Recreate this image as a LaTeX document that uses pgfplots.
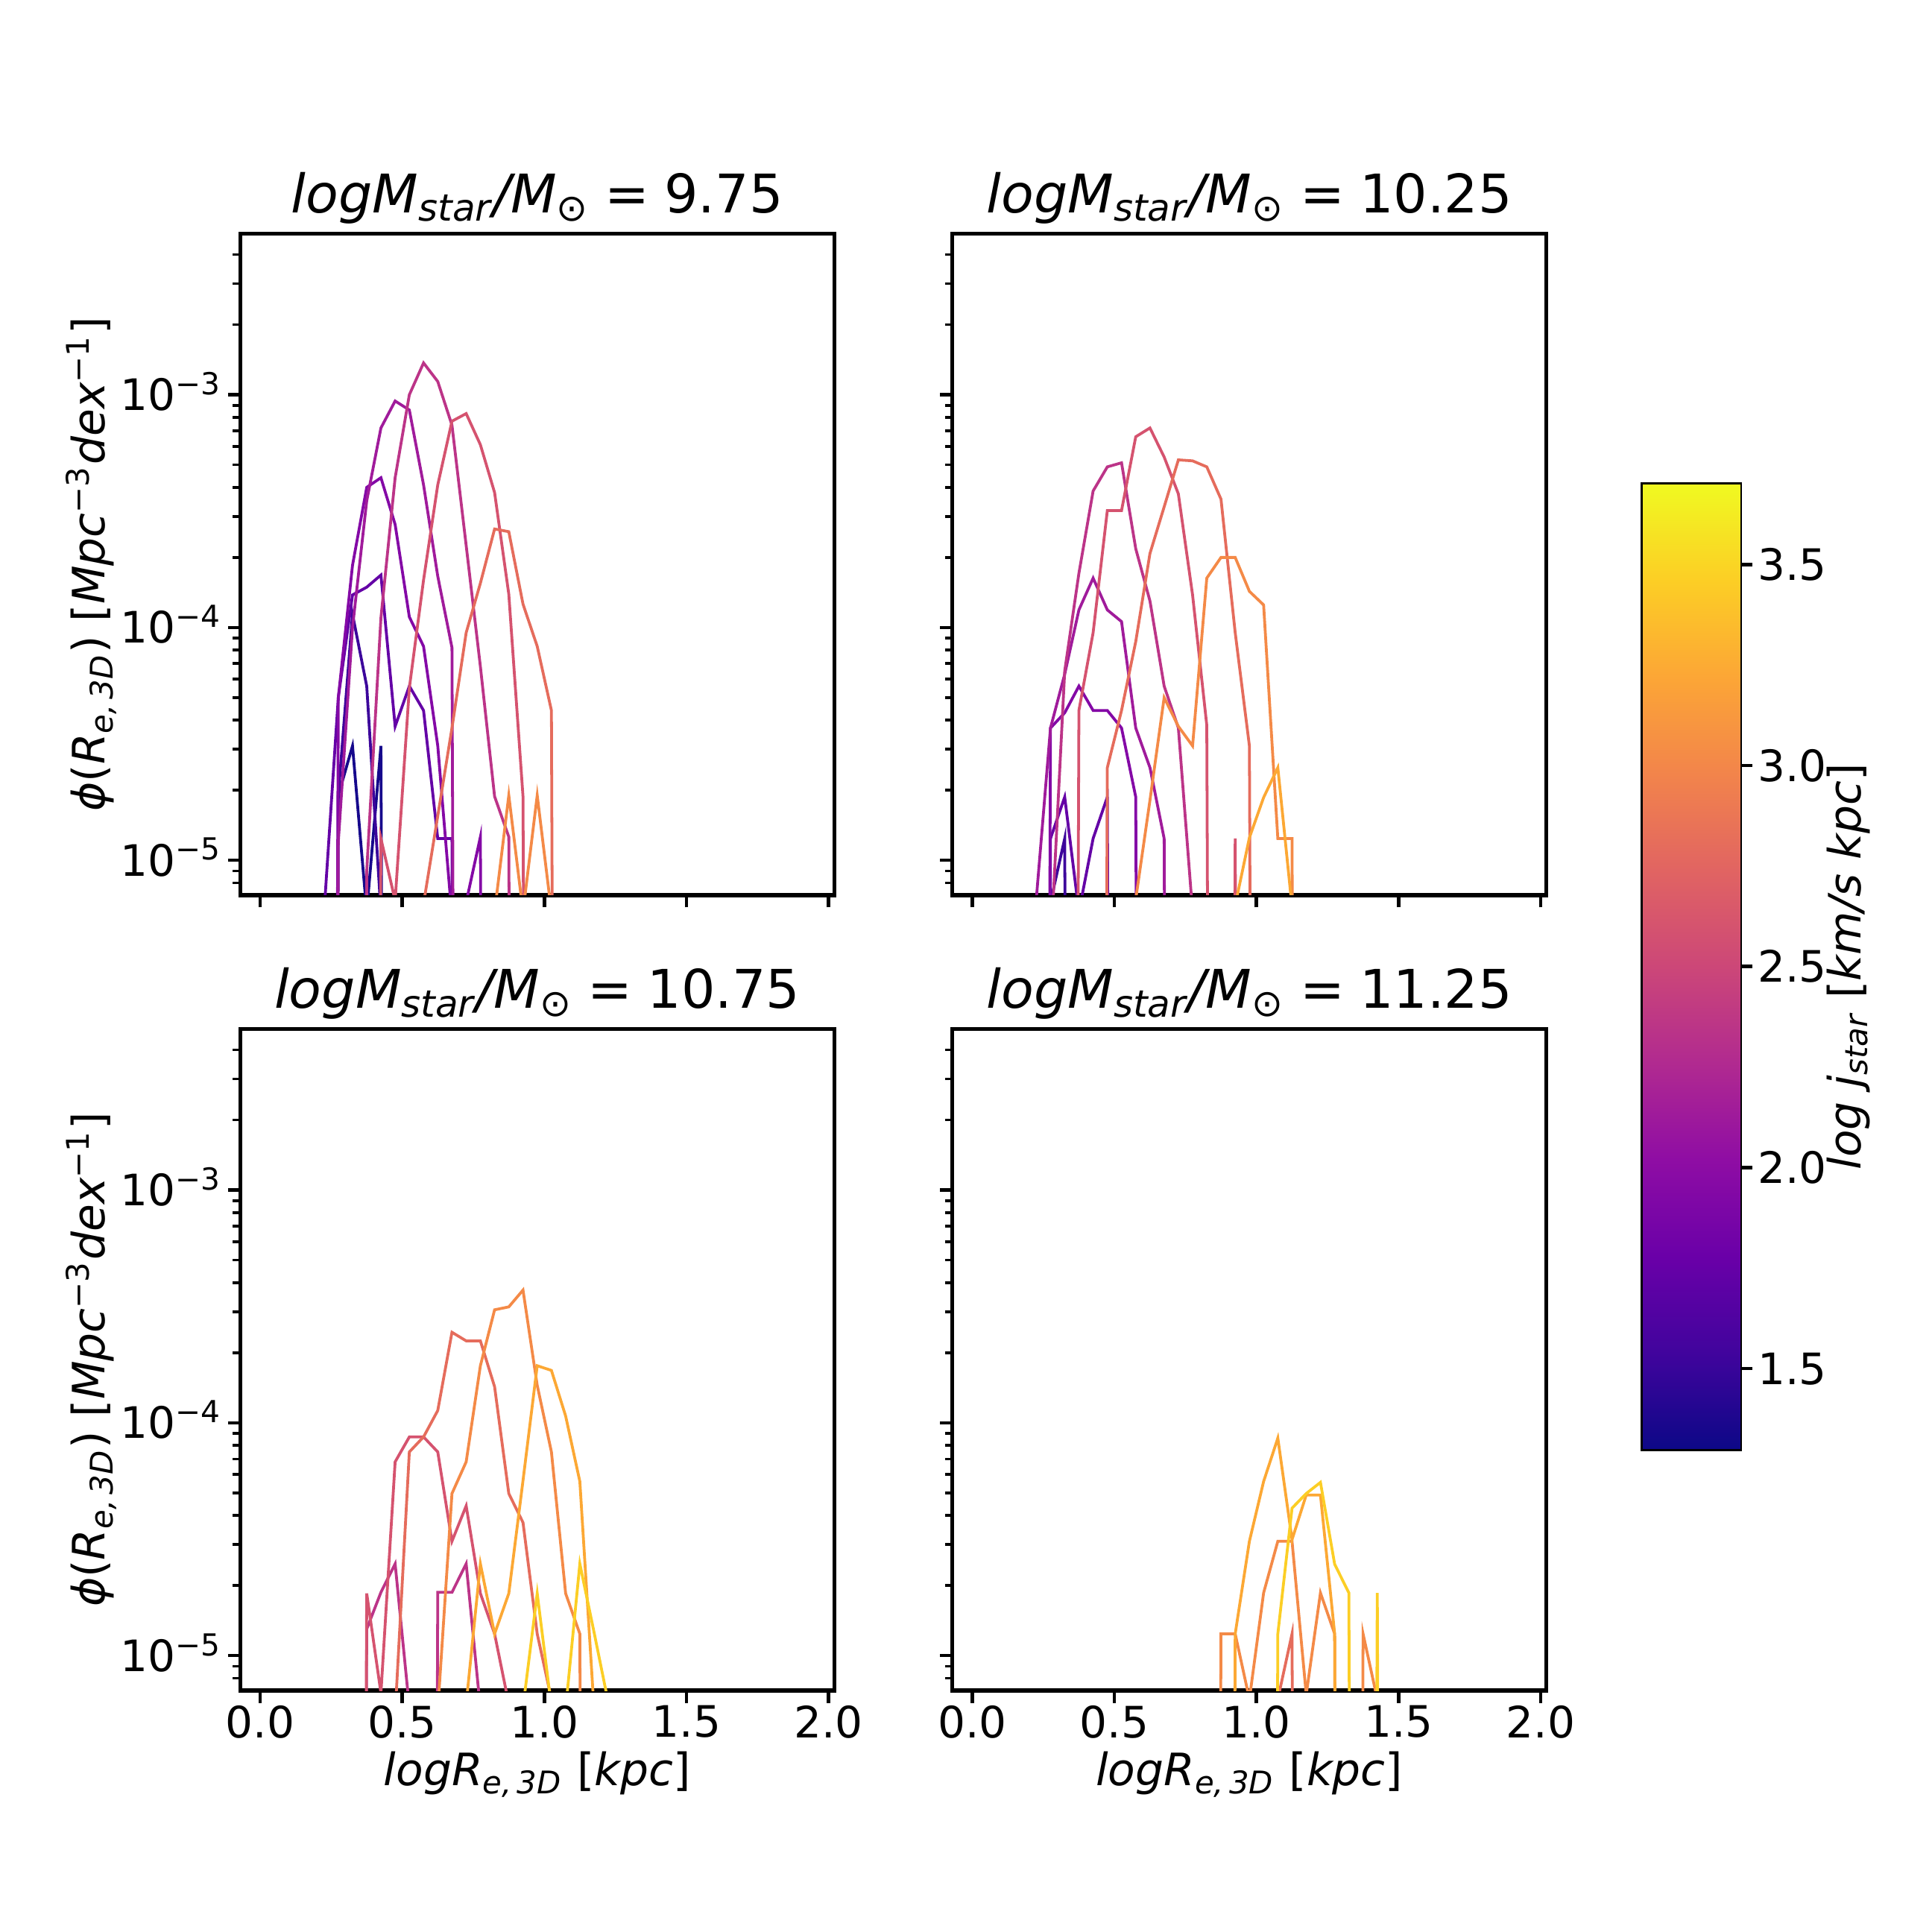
\documentclass[border=0pt]{standalone}
\usepackage{fontspec}
\setmainfont{DejaVu Sans}
\usepackage{pgfplots}
\pgfplotsset{compat=1.18}

\definecolor{j13}{RGB}{22,8,140}
\definecolor{j15}{RGB}{60,5,155}
\definecolor{j17}{RGB}{100,1,166}
\definecolor{j19}{RGB}{132,9,166}
\definecolor{j21}{RGB}{160,27,155}
\definecolor{j23}{RGB}{188,52,136}
\definecolor{j25}{RGB}{213,83,111}
\definecolor{j27}{RGB}{229,108,92}
\definecolor{j30}{RGB}{244,138,71}
\definecolor{j32}{RGB}{252,168,52}
\definecolor{j35}{RGB}{252,206,37}

\pgfplotsset{
  colormap={plasma}{rgb255(0cm)=(13,8,135); rgb255(1cm)=(65,4,157); rgb255(2cm)=(106,0,168); rgb255(3cm)=(143,13,164); rgb255(4cm)=(177,42,144); rgb255(5cm)=(204,71,120); rgb255(6cm)=(225,100,98); rgb255(7cm)=(242,132,75); rgb255(8cm)=(252,166,54); rgb255(9cm)=(252,206,37); rgb255(10cm)=(240,249,33)},
}

\newcommand{\tickfont}{\fontsize{10}{12}\selectfont}
\newcommand{\labfont}{\fontsize{10.3}{12}\selectfont}
\newcommand{\titfont}{\fontsize{12.3}{14}\selectfont}
\newcommand{\ttl}[1]{{\itshape logM\textsubscript{star}/M\textsubscript{\upshape ⊙}}\hspace{0.28em}=\hspace{0.28em}#1}
\newcommand{\xlab}{{\itshape logR\textsubscript{e,\,3D}} [{\itshape kpc}]}
\newcommand{\ylab}{{\itshape ϕ}({\itshape R\textsubscript{e,\,3D}}) [{\itshape Mpc}\textsuperscript{−3}{\itshape dex}\textsuperscript{−1}]}

\pgfplotsset{
  pnl/.style={
    anchor=south west, scale only axis, width=4.82cm, height=5.37cm,
    xmin=-0.07, xmax=2.02, ymin=7.08e-6, ymax=4.93e-3,
    xtick={0,0.5,1,1.5,2}, xticklabels={0.0,0.5,1.0,1.5,2.0},
    ytick={1e-5,1e-4,1e-3},
    yticklabels={10\textsuperscript{−5},10\textsuperscript{−4},10\textsuperscript{−3}},
    minor ytick={8e-6,9e-6,2e-5,3e-5,4e-5,5e-5,6e-5,7e-5,8e-5,9e-5,2e-4,3e-4,4e-4,5e-4,6e-4,7e-4,8e-4,9e-4,2e-3,3e-3,4e-3},
    tick pos=left, tick align=outside,
    major tick length=1.0mm, minor tick length=0.6mm,
    axis line style={line width=0.9pt},
    tick style={black, line width=0.8pt},
    minor tick style={line width=0.6pt},
    tick label style={font=\tickfont},
    xticklabel style={anchor=north, inner sep=0pt, yshift=-0.15mm},
    yticklabel style={anchor=base east, inner sep=0pt, xshift=-0.4mm, yshift=-3.6pt},
    title style={font=\titfont, at={(0.5,1)}, anchor=base, yshift=-0.45mm, inner sep=0pt},
    xlabel style={font=\labfont, at={(axis description cs:0.5,0)}, anchor=base, yshift=-7.7mm, inner sep=0pt},
    ylabel style={font=\labfont, at={(axis description cs:0,0.5)}, anchor=center, yshift=12.1mm, inner sep=0pt},
  },
}

\begin{document}
\begin{tikzpicture}
\path[use as bounding box] (0,0) rectangle (15.68cm,15.68cm);

% Panel 1
\begin{axis}[ymode=log, pnl, at={(1.95cm,8.415cm)}, xticklabels={}, title={\ttl{9.75}}, ylabel={\ylab}]
\addplot[j13, line width=0.65pt] coordinates {(0.225,1e-20) (0.275,1.9e-5) (0.325,3.1e-5) (0.375,6e-6) (0.425,3.1e-5) (0.475,1e-20)};
\addplot[j15, line width=0.65pt] coordinates {(0.225,1e-20) (0.275,1.9e-5) (0.325,1.14e-4) (0.375,5.6e-5) (0.425,6e-6) (0.475,1e-20)};
\addplot[j17, line width=0.65pt] coordinates {(0.175,1e-20) (0.225,6e-6) (0.275,5.0e-5) (0.325,1.38e-4) (0.375,1.49e-4) (0.425,1.68e-4) (0.475,3.76e-5) (0.525,5.6e-5) (0.575,4.4e-5) (0.625,1.24e-5) (0.675,1.24e-5) (0.725,1e-20)};
\addplot[j19, line width=0.65pt] coordinates {(0.225,1e-20) (0.275,5.0e-5) (0.325,1.85e-4) (0.375,4.0e-4) (0.425,4.4e-4) (0.475,2.77e-4) (0.525,1.11e-4) (0.575,8.3e-5) (0.625,3.1e-5) (0.675,5.7e-6) (0.725,6.6e-6) (0.775,1.26e-5) (0.825,1e-20)};
\addplot[j21, line width=0.65pt] coordinates {(0.225,1e-20) (0.275,1.2e-5) (0.325,1.0e-4) (0.375,3.5e-4) (0.425,7.2e-4) (0.475,9.4e-4) (0.525,8.6e-4) (0.575,4.1e-4) (0.625,1.66e-4) (0.675,8.2e-5) (0.725,1e-20)};
\addplot[j23, line width=0.65pt] coordinates {(0.325,1e-20) (0.375,9e-6) (0.425,1.1e-4) (0.475,4.4e-4) (0.525,1.0e-3) (0.575,1.37e-3) (0.625,1.14e-3) (0.675,7.4e-4) (0.725,2.25e-4) (0.775,6.8e-5) (0.825,1.88e-5) (0.875,1.26e-5) (0.925,1e-20)};
\addplot[j25, line width=0.65pt] coordinates {(0.375,1e-20) (0.425,1.24e-5) (0.475,6.7e-6) (0.525,5.5e-5) (0.575,1.6e-4) (0.625,4.1e-4) (0.675,7.7e-4) (0.725,8.3e-4) (0.775,6.1e-4) (0.825,3.8e-4) (0.875,1.39e-4) (0.925,1.88e-5) (0.975,1e-20)};
\addplot[j27, line width=0.65pt] coordinates {(0.525,1e-20) (0.575,6.5e-6) (0.625,1.55e-5) (0.675,3.7e-5) (0.725,9.5e-5) (0.775,1.55e-4) (0.825,2.65e-4) (0.875,2.58e-4) (0.925,1.26e-4) (0.975,8.3e-5) (1.025,4.4e-5) (1.075,1e-20)};
\addplot[j30, line width=0.65pt] coordinates {(0.775,1e-20) (0.825,6e-6) (0.875,1.9e-5) (0.925,6e-6) (0.975,1.9e-5) (1.025,6e-6) (1.075,1e-20)};
\end{axis}

% Panel 2
\begin{axis}[ymode=log, pnl, at={(7.73cm,8.415cm)}, xticklabels={}, yticklabels={}, title={\ttl{10.25}}]
\addplot[j15, line width=0.65pt] coordinates {(0.225,1e-20) (0.275,6.6e-6) (0.325,1.24e-5) (0.375,1e-20)};
\addplot[j17, line width=0.65pt] coordinates {(0.225,1e-20) (0.275,1.24e-5) (0.325,1.87e-5) (0.375,6e-6) (0.425,1.24e-5) (0.475,1.87e-5) (0.525,1e-20)};
\addplot[j19, line width=0.65pt] coordinates {(0.225,1e-20) (0.275,3.7e-5) (0.325,4.3e-5) (0.375,5.6e-5) (0.425,4.4e-5) (0.475,4.4e-5) (0.525,3.7e-5) (0.575,1.87e-5) (0.625,1e-20)};
\addplot[j21, line width=0.65pt] coordinates {(0.175,1e-20) (0.225,6.8e-6) (0.275,3.7e-5) (0.325,6.3e-5) (0.375,1.19e-4) (0.425,1.63e-4) (0.475,1.19e-4) (0.525,1.06e-4) (0.575,3.7e-5) (0.625,2.5e-5) (0.675,1.24e-5) (0.725,1e-20)};
\addplot[j23, line width=0.65pt] coordinates {(0.225,1e-20) (0.275,4e-6) (0.325,6.5e-5) (0.375,1.71e-4) (0.425,3.86e-4) (0.475,4.9e-4) (0.525,5.1e-4) (0.575,2.18e-4) (0.625,1.30e-4) (0.675,5.6e-5) (0.725,3.7e-5) (0.775,6e-6) (0.825,1e-20)};
\addplot[j25, line width=0.65pt] coordinates {(0.325,1e-20) (0.375,4.4e-5) (0.425,9.5e-5) (0.475,3.18e-4) (0.525,3.18e-4) (0.575,6.6e-4) (0.625,7.2e-4) (0.675,5.4e-4) (0.725,3.75e-4) (0.775,1.38e-4) (0.825,3.8e-5) (0.875,1e-20) (0.925,1.24e-5) (0.975,1e-20)};
\addplot[j27, line width=0.65pt] coordinates {(0.425,1e-20) (0.475,2.5e-5) (0.525,4.4e-5) (0.575,8.7e-5) (0.625,2.08e-4) (0.675,3.3e-4) (0.725,5.25e-4) (0.775,5.2e-4) (0.825,4.9e-4) (0.875,3.56e-4) (0.925,9.5e-5) (0.975,3.1e-5) (1.025,1e-20)};
\addplot[j30, line width=0.65pt] coordinates {(0.525,1e-20) (0.575,6.8e-6) (0.625,1.81e-5) (0.675,5.0e-5) (0.725,3.76e-5) (0.775,3.1e-5) (0.825,1.63e-4) (0.875,2.0e-4) (0.925,2.0e-4) (0.975,1.43e-4) (1.025,1.25e-4) (1.075,1.24e-5) (1.125,1.24e-5) (1.175,1e-20)};
\addplot[j32, line width=0.65pt] coordinates {(0.875,1e-20) (0.925,6.4e-6) (0.975,1.25e-5) (1.025,1.86e-5) (1.075,2.5e-5) (1.125,6.3e-6) (1.175,1e-20)};
\end{axis}

% Panel 3
\begin{axis}[ymode=log, pnl, at={(1.95cm,1.96cm)}, title={\ttl{10.75}}, ylabel={\ylab}, xlabel={\xlab}]
\addplot[j23, line width=0.65pt] coordinates {(0.325,1e-20) (0.375,1.3e-5) (0.425,1.87e-5) (0.475,2.48e-5) (0.525,6.0e-6) (0.575,1e-20) (0.625,1.87e-5) (0.675,1.87e-5) (0.725,2.48e-5) (0.775,5.9e-6) (0.825,1e-20)};
\addplot[j25, line width=0.65pt] coordinates {(0.325,1e-20) (0.375,1.85e-5) (0.425,6.9e-6) (0.475,6.8e-5) (0.525,8.7e-5) (0.575,8.7e-5) (0.625,7.5e-5) (0.675,3.1e-5) (0.725,4.4e-5) (0.775,1.85e-5) (0.825,1.24e-5) (0.875,6.2e-6) (0.925,1e-20)};
\addplot[j27, line width=0.65pt] coordinates {(0.425,1e-20) (0.475,5.6e-6) (0.525,7.5e-5) (0.575,8.7e-5) (0.625,1.13e-4) (0.675,2.45e-4) (0.725,2.25e-4) (0.775,2.25e-4) (0.825,1.43e-4) (0.875,4.97e-5) (0.925,3.73e-5) (0.975,1.24e-5) (1.025,6.5e-6) (1.075,1e-20)};
\addplot[j30, line width=0.65pt] coordinates {(0.575,1e-20) (0.625,5.8e-6) (0.675,4.97e-5) (0.725,6.8e-5) (0.775,1.76e-4) (0.825,3.06e-4) (0.875,3.15e-4) (0.925,3.72e-4) (0.975,1.45e-4) (1.025,7.5e-5) (1.075,1.85e-5) (1.125,1.24e-5) (1.175,1e-20)};
\addplot[j32, line width=0.65pt] coordinates {(0.675,1e-20) (0.725,6.2e-6) (0.775,2.48e-5) (0.825,1.24e-5) (0.875,1.85e-5) (0.925,5.65e-5) (0.975,1.76e-4) (1.025,1.68e-4) (1.075,1.07e-4) (1.125,5.6e-5) (1.175,5.9e-6) (1.225,1e-20)};
\addplot[j35, line width=0.65pt] coordinates {(0.875,1e-20) (0.925,6.0e-6) (0.975,1.85e-5) (1.025,6.0e-6) (1.075,5.9e-6) (1.125,2.48e-5) (1.175,1.26e-5) (1.225,6.3e-6) (1.275,1e-20)};
\end{axis}

% Panel 4
\begin{axis}[ymode=log, pnl, at={(7.73cm,1.96cm)}, yticklabels={}, title={\ttl{11.25}}, xlabel={\xlab}]
\addplot[j27, line width=0.65pt] coordinates {(1.025,1e-20) (1.075,6.5e-6) (1.125,1.24e-5) (1.175,1e-20)};
\addplot[j30, line width=0.65pt] coordinates {(0.825,1e-20) (0.875,1.24e-5) (0.925,1.24e-5) (0.975,6.5e-6) (1.025,1.86e-5) (1.075,3.1e-5) (1.125,3.1e-5) (1.175,6.8e-6) (1.225,1.86e-5) (1.275,1.24e-5) (1.325,1e-20) (1.375,1.24e-5) (1.425,6.5e-6) (1.475,1e-20)};
\addplot[j32, line width=0.65pt] coordinates {(0.875,1e-20) (0.925,1.24e-5) (0.975,3.1e-5) (1.025,5.6e-5) (1.075,8.6e-5) (1.125,3.15e-5) (1.175,4.9e-5) (1.225,4.9e-5) (1.275,1.24e-5) (1.325,1e-20)};
\addplot[j35, line width=0.65pt] coordinates {(1.025,1e-20) (1.075,1.24e-5) (1.125,4.3e-5) (1.175,4.97e-5) (1.225,5.55e-5) (1.275,2.47e-5) (1.325,1.86e-5) (1.375,1e-20) (1.425,1.86e-5) (1.475,1e-20)};
\end{axis}

% Colorbar
\begin{axis}[at={(13.33cm,3.92cm)}, anchor=south west, scale only axis, width=0.79cm, height=7.83cm,
  xmin=0, xmax=1, ymin=1.3, ymax=3.7, xtick=\empty,
  ytick={1.5,2,2.5,3,3.5}, yticklabels={1.5,2.0,2.5,3.0,3.5},
  ytick pos=right, yticklabel pos=right, tick align=outside, major tick length=1.0mm,
  axis line style={line width=0.9pt}, tick style={black, line width=0.8pt},
  tick label style={font=\tickfont},
  yticklabel style={anchor=base west, inner sep=0pt, xshift=0.4mm, yshift=-3.6pt},
  colormap name=plasma, point meta min=1.3, point meta max=3.7,
  ylabel={{\itshape log j\textsubscript{star}} [{\itshape km/s kpc}]},
  ylabel style={font=\labfont, at={(axis description cs:1,0.5)}, anchor=center, yshift=-8.8mm, inner sep=0pt}]
\addplot[patch, shader=interp, point meta=y] coordinates {(0,1.3) (1,1.3) (1,3.7) (0,1.3) (1,3.7) (0,3.7)};
\end{axis}
\end{tikzpicture}
\end{document}
